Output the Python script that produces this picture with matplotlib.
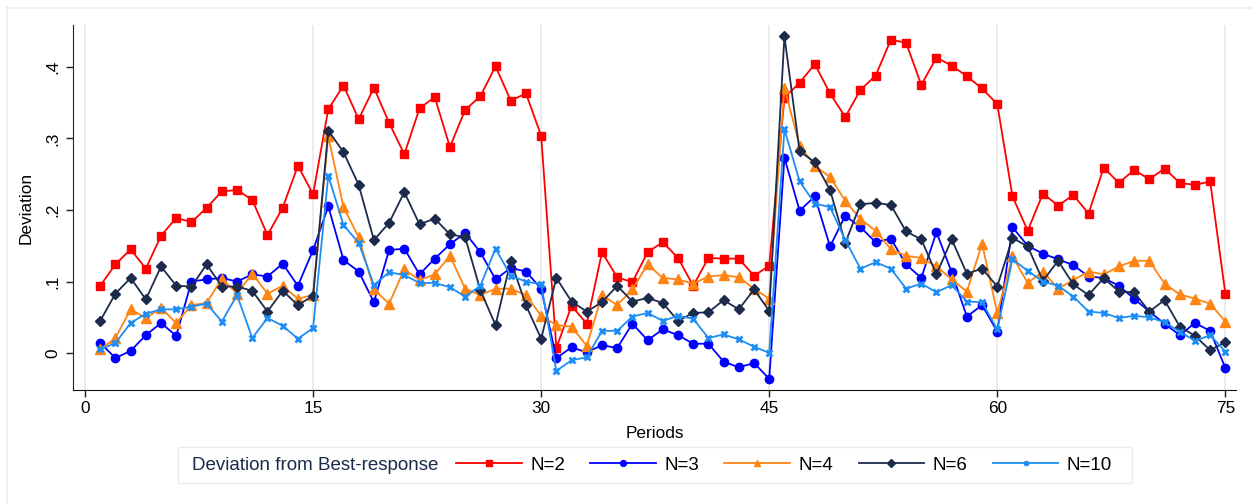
import matplotlib.pyplot as plt
import numpy as np
from matplotlib.lines import Line2D
from matplotlib.patches import Rectangle

plt.rcParams['font.family'] = ['Liberation Sans', 'DejaVu Sans']

periods = np.arange(1, 76)

n2 = [0.094, 0.124, 0.145, 0.118, 0.164, 0.189, 0.183, 0.203, 0.226, 0.228,
      0.214, 0.165, 0.203, 0.262, 0.222, 0.341, 0.374, 0.327, 0.371, 0.322,
      0.278, 0.342, 0.358, 0.288, 0.340, 0.359, 0.401, 0.353, 0.363, 0.304,
      0.007, 0.066, 0.041, 0.141, 0.106, 0.099, 0.141, 0.155, 0.133, 0.094,
      0.133, 0.132, 0.132, 0.108, 0.122, 0.357, 0.378, 0.404, 0.363, 0.330,
      0.368, 0.388, 0.438, 0.434, 0.375, 0.413, 0.402, 0.387, 0.370, 0.348,
      0.219, 0.171, 0.223, 0.206, 0.221, 0.195, 0.259, 0.238, 0.256, 0.243,
      0.258, 0.238, 0.235, 0.240, 0.083]
n3 = [0.014, -0.007, 0.003, 0.025, 0.042, 0.024, 0.100, 0.103, 0.105, 0.100,
      0.110, 0.107, 0.125, 0.094, 0.144, 0.205, 0.130, 0.114, 0.071, 0.144,
      0.146, 0.110, 0.132, 0.152, 0.168, 0.141, 0.103, 0.119, 0.114, 0.090,
      -0.007, 0.008, 0.001, 0.011, 0.007, 0.041, 0.018, 0.033, 0.025, 0.013,
      0.013, -0.012, -0.020, -0.014, -0.036, 0.273, 0.199, 0.219, 0.149, 0.192,
      0.176, 0.155, 0.160, 0.124, 0.105, 0.169, 0.113, 0.051, 0.067, 0.030,
      0.176, 0.150, 0.139, 0.131, 0.123, 0.107, 0.105, 0.094, 0.076, 0.058,
      0.041, 0.025, 0.042, 0.031, -0.021]
n4 = [0.005, 0.021, 0.061, 0.049, 0.063, 0.042, 0.067, 0.070, 0.104, 0.083,
      0.111, 0.083, 0.094, 0.076, 0.081, 0.303, 0.204, 0.162, 0.089, 0.069,
      0.117, 0.102, 0.110, 0.136, 0.090, 0.081, 0.090, 0.090, 0.081, 0.052,
      0.039, 0.037, 0.010, 0.081, 0.067, 0.089, 0.124, 0.105, 0.103, 0.097,
      0.107, 0.109, 0.106, 0.090, 0.076, 0.371, 0.290, 0.262, 0.246, 0.213,
      0.187, 0.171, 0.145, 0.136, 0.133, 0.121, 0.103, 0.086, 0.153, 0.056,
      0.135, 0.098, 0.114, 0.090, 0.102, 0.114, 0.110, 0.121, 0.129, 0.129,
      0.097, 0.082, 0.076, 0.069, 0.044]
n6 = [0.045, 0.083, 0.105, 0.075, 0.121, 0.094, 0.093, 0.124, 0.093, 0.093,
      0.087, 0.058, 0.087, 0.067, 0.080, 0.311, 0.281, 0.235, 0.158, 0.182,
      0.225, 0.180, 0.188, 0.166, 0.162, 0.088, 0.039, 0.129, 0.067, 0.020,
      0.105, 0.072, 0.058, 0.071, 0.094, 0.072, 0.077, 0.070, 0.045, 0.056,
      0.057, 0.074, 0.061, 0.089, 0.059, 0.443, 0.282, 0.267, 0.228, 0.154,
      0.208, 0.210, 0.207, 0.170, 0.159, 0.110, 0.159, 0.111, 0.118, 0.093,
      0.161, 0.149, 0.101, 0.129, 0.096, 0.081, 0.105, 0.086, 0.085, 0.058,
      0.074, 0.037, 0.024, 0.004, 0.015]
n10 = [0.005, 0.014, 0.042, 0.055, 0.061, 0.061, 0.065, 0.069, 0.044, 0.081,
       0.021, 0.049, 0.038, 0.020, 0.035, 0.248, 0.179, 0.154, 0.095, 0.113,
       0.109, 0.098, 0.098, 0.092, 0.079, 0.094, 0.146, 0.108, 0.100, 0.096,
       -0.025, -0.010, -0.006, 0.031, 0.031, 0.051, 0.056, 0.045, 0.052, 0.048,
       0.021, 0.026, 0.019, 0.009, 0.000, 0.313, 0.240, 0.209, 0.204, 0.158,
       0.118, 0.127, 0.118, 0.090, 0.097, 0.085, 0.095, 0.072, 0.071, 0.033,
       0.131, 0.115, 0.100, 0.094, 0.079, 0.058, 0.056, 0.049, 0.052, 0.050,
       0.043, 0.030, 0.017, 0.025, 0.002]

series = [
    ('N=2', n2, '#ff0000', 's', 6.0),
    ('N=3', n3, '#0000ff', 'o', 6.0),
    ('N=4', n4, '#ff8412', '^', 6.5),
    ('N=6', n6, '#1c2b4c', 'D', 5.5),
    ('N=10', n10, '#1e8ef5', 'x', 5.0),
]

W, H = 1252, 504
fig = plt.figure(figsize=(W / 100, H / 100), dpi=100)

# outer graph region border
fig.add_artist(Line2D([6.5 / W, 6.5 / W], [0, 1 - 7 / H], color='#e6edf2', lw=1.2))
fig.add_artist(Line2D([6 / W, 1], [1 - 7.5 / H, 1 - 7.5 / H], color='#e6edf2', lw=1.2))

ax = fig.add_axes([73 / W, 1 - 390 / H, (1236 - 73) / W, (390 - 25) / H])

for label, vals, col, mk, ms in series:
    if mk == 'x':
        ax.plot(periods, vals, color=col, lw=1.3, marker=mk, ms=ms, mew=2.0, label=label)
    else:
        ax.plot(periods, vals, color=col, lw=1.3, marker=mk, ms=ms, mec=col, label=label)

ax.set_xlim(-0.79, 75.7)
ax.set_ylim(-0.0517, 0.4587)
ax.set_xticks([0, 15, 30, 45, 60, 75])
ax.set_yticks([0, 0.1, 0.2, 0.3, 0.4])
ax.set_yticklabels(['0', '.1', '.2', '.3', '.4'], rotation=90, va='center')
ax.grid(axis='x', color='#ebebeb', lw=1.3)
ax.set_axisbelow(True)
ax.tick_params(axis='both', length=5, width=1, color='#222222', labelsize=12.4, pad=3)
ax.tick_params(axis='y', pad=4)

for s in ('top', 'right'):
    ax.spines[s].set_visible(False)
ax.spines['left'].set_color('#222222')
ax.spines['bottom'].set_color('#111111')

ax.set_xlabel('Periods', fontsize=12.4)
ax.xaxis.set_label_coords(0.5, -0.098)
ax.set_ylabel('Deviation', fontsize=12.4)
ax.yaxis.set_label_coords(-0.034, 0.5)

# legend box with a leading caption
fig.add_artist(Rectangle((178 / W, 1 - 483 / H), (1132 - 178) / W, 36 / H,
                         transform=fig.transFigure, facecolor='white',
                         edgecolor='#e8eef0', lw=1.0))
fig.text(192 / W, 1 - 465 / H, 'Deviation from Best-response', fontsize=13.5,
         color='#1a2a4a', va='center', ha='left')

handles, labels = ax.get_legend_handles_labels()
fig.legend(handles, labels, loc='center left', bbox_to_anchor=(456 / W, 1 - 465 / H),
           ncol=5, frameon=False, fontsize=13.5, borderpad=0, borderaxespad=0,
           handlelength=3.5, handletextpad=0.45, columnspacing=1.35, markerscale=0.7)

fig.savefig('out.png', dpi=100, facecolor='white')
